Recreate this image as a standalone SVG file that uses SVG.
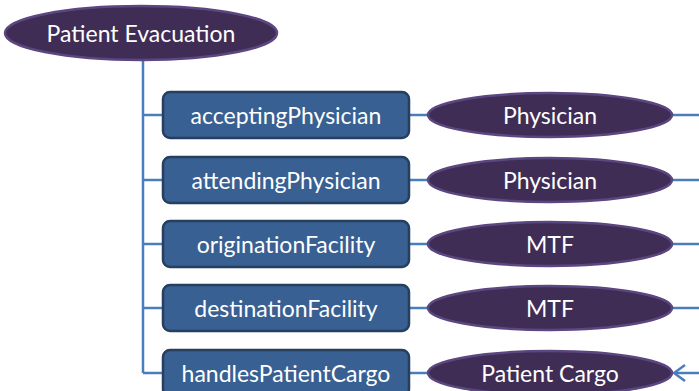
<svg xmlns="http://www.w3.org/2000/svg" width="699" height="391" viewBox="0 0 699 391">
  <defs>
    <style>
      .wire { stroke: #4a7ebb; stroke-width: 2.5; fill: none; }
      .rel rect { fill: #386092; stroke: #263f5e; stroke-width: 2.5; }
      .cls ellipse { fill: #3f2d56; stroke: #5b4680; stroke-width: 2.5; }
      text { font-family: Lato, "Open Sans", "Liberation Sans", sans-serif; font-size: 23px; fill: #ffffff; text-anchor: middle; dominant-baseline: central; }
    </style>
    <marker id="open-arrow" viewBox="0 0 13 18" refX="12" refY="9" markerWidth="13" markerHeight="18" markerUnits="userSpaceOnUse" orient="auto">
      <path d="M1,1 L12,9 L1,17" fill="none" stroke="#4a7ebb" stroke-width="2.5"/>
    </marker>
  </defs>

  <g id="connectors">
    <!-- trunk from root down to last relation -->
    <path class="wire" d="M143,60 V373"/>
    <path class="wire" d="M143,115 H164"/>
    <path class="wire" d="M143,180 H164"/>
    <path class="wire" d="M143,244 H164"/>
    <path class="wire" d="M143,308 H164"/>
    <path class="wire" d="M143,373 H164"/>
    <!-- relation to range -->
    <path class="wire" d="M409,115 H429"/>
    <path class="wire" d="M409,180 H429"/>
    <path class="wire" d="M409,244 H429"/>
    <path class="wire" d="M409,308 H429"/>
    <path class="wire" d="M409,373 H429"/>
    <!-- outgoing to the right -->
    <path class="wire" d="M672,115 H699"/>
    <path class="wire" d="M672,180 H699"/>
    <path class="wire" d="M672,244 H699"/>
    <path class="wire" d="M672,308 H699"/>
    <path class="wire" d="M699,373 H674" marker-end="url(#open-arrow)"/>
  </g>

  <g id="root" class="cls">
    <ellipse cx="141" cy="33" rx="136" ry="27"/>
    <text x="141" y="33">Patient Evacuation</text>
  </g>

  <g id="acceptingPhysician" class="rel">
    <rect x="163" y="92" width="246" height="46" rx="7"/>
    <text x="286" y="115">acceptingPhysician</text>
  </g>
  <g id="attendingPhysician" class="rel">
    <rect x="163" y="157" width="246" height="46" rx="7"/>
    <text x="286" y="180">attendingPhysician</text>
  </g>
  <g id="originationFacility" class="rel">
    <rect x="163" y="221" width="246" height="46" rx="7"/>
    <text x="286" y="244">originationFacility</text>
  </g>
  <g id="destinationFacility" class="rel">
    <rect x="163" y="285" width="246" height="46" rx="7"/>
    <text x="286" y="308">destinationFacility</text>
  </g>
  <g id="handlesPatientCargo" class="rel">
    <rect x="163" y="350" width="246" height="46" rx="7"/>
    <text x="286" y="373">handlesPatientCargo</text>
  </g>

  <g id="physician1" class="cls">
    <ellipse cx="550" cy="115" rx="122" ry="22"/>
    <text x="550" y="115">Physician</text>
  </g>
  <g id="physician2" class="cls">
    <ellipse cx="550" cy="180" rx="122" ry="22"/>
    <text x="550" y="180">Physician</text>
  </g>
  <g id="mtf1" class="cls">
    <ellipse cx="550" cy="244" rx="122" ry="22"/>
    <text x="550" y="244">MTF</text>
  </g>
  <g id="mtf2" class="cls">
    <ellipse cx="550" cy="308" rx="122" ry="22"/>
    <text x="550" y="308">MTF</text>
  </g>
  <g id="patientCargo" class="cls">
    <ellipse cx="550" cy="373" rx="122" ry="22"/>
    <text x="550" y="373">Patient Cargo</text>
  </g>
</svg>
